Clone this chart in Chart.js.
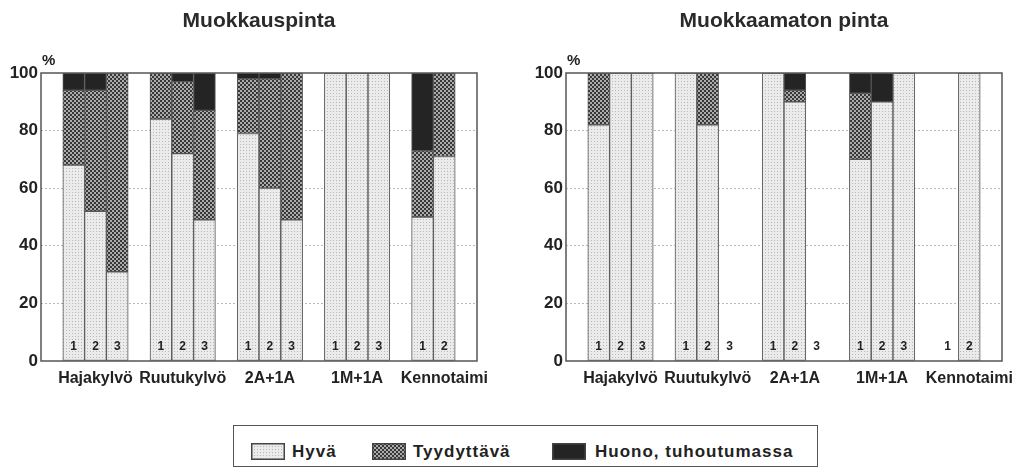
<!DOCTYPE html>
<html>
<head>
<meta charset="utf-8">
<script src="https://cdn.jsdelivr.net/npm/chart.js@4/dist/chart.umd.min.js"></script>
<style>
  body { margin: 0; background: #fff; font-family: "Liberation Sans", Arial, sans-serif; }
  #wrap { position: relative; width: 1022px; height: 473px; }
  canvas.chart { position: absolute; top: 0; }
  #legend { position: absolute; left: 233px; top: 425px; width: 585px; height: 42px;
            border: 1.5px solid #555; box-sizing: border-box; }
  #legend .sw { position: absolute; top: 17px; width: 34px; height: 17px; }
  #legend .txt { position: absolute; top: 16px; font-weight: bold; font-size: 17px;
                 letter-spacing: 1px; color: #222; line-height: 20px; }
</style>
</head>
<body>
<div id="wrap">
  <canvas id="leftChart" class="chart" width="490" height="395" style="left:0"></canvas>
  <canvas id="rightChart" class="chart" width="505" height="395" style="left:510px"></canvas>
  <div id="legend">
    <canvas class="sw" id="sw0" width="34" height="17" style="left:17px"></canvas>
    <span class="txt" style="left:58px">Hyvä</span>
    <canvas class="sw" id="sw1" width="34" height="17" style="left:138px"></canvas>
    <span class="txt" style="left:179px">Tyydyttävä</span>
    <canvas class="sw" id="sw2" width="34" height="17" style="left:318px"></canvas>
    <span class="txt" style="left:361px">Huono, tuhoutumassa</span>
  </div>
</div>
<script>
const groups = ['Hajakylvö', 'Ruutukylvö', '2A+1A', '1M+1A', 'Kennotaimi'];
const barCounts = [3, 3, 3, 3, 2];
const seriesNames = ['Hyvä', 'Tyydyttävä', 'Huono, tuhoutumassa'];
const yTicks = [0, 20, 40, 60, 80, 100];

// Muokkauspinta (bars in order 1,2,3 per group)
const leftHyva  = [68, 52, 31,  84, 72, 49,  79, 60, 49,  100, 100, 100,  50, 71];
const leftTyyd  = [26, 42, 69,  16, 25, 38,  19, 38, 51,  0, 0, 0,        23, 29];
const leftHuono = [6, 6, 0,     0, 3, 13,    2, 2, 0,     0, 0, 0,        27, 0];

// Muokkaamaton pinta (null = no bar)
const rightHyva  = [82, 100, 100,  100, 82, null,  100, 90, null,  70, 90, 100,  null, 100];
const rightTyyd  = [18, 0, 0,      0, 18, null,    0, 4, null,     23, 0, 0,     null, 0];
const rightHuono = [0, 0, 0,       0, 0, null,     0, 6, null,     7, 10, 0,     null, 0];

// slot layout: empty slot before each group and one at the end
const slotLabels = [], slotBarNo = [], slotGroup = [];
groups.forEach((g, gi) => {
  slotLabels.push(''); slotBarNo.push(null); slotGroup.push('');
  for (let b = 0; b < barCounts[gi]; b++) {
    slotLabels.push(g + ' ' + (b + 1));
    slotBarNo.push(String(b + 1));
    slotGroup.push(b === 1 ? g : '');
  }
});
slotLabels.push(''); slotBarNo.push(null); slotGroup.push('');

function toSlots(values) {
  let k = 0;
  const out = [];
  groups.forEach((g, gi) => {
    out.push(null);
    for (let b = 0; b < barCounts[gi]; b++) {
      const v = values[k++];
      out.push(v ? v : null);
    }
  });
  out.push(null);
  return out;
}

// fill patterns
const painters = [
  function(g) { // light stipple
    g.fillStyle = '#ebebeb'; g.fillRect(0, 0, 3, 3);
    g.fillStyle = '#b8b8b8'; g.fillRect(0, 0, 1, 1);
  },
  function(g) { // checker
    g.fillStyle = '#ababab'; g.fillRect(0, 0, 4, 4);
    g.fillStyle = '#383838'; g.fillRect(0, 0, 2, 2); g.fillRect(2, 2, 2, 2);
  },
  function(g) {
    g.fillStyle = '#242424'; g.fillRect(0, 0, 4, 4);
  }
];
const patternSizes = [3, 4, 4];
function makePattern(i, ctx) {
  const c = document.createElement('canvas');
  c.width = c.height = patternSizes[i];
  painters[i](c.getContext('2d'));
  return ctx.createPattern(c, 'repeat');
}

// legend swatches
for (let i = 0; i < 3; i++) {
  const cv = document.getElementById('sw' + i);
  const g = cv.getContext('2d');
  g.fillStyle = makePattern(i, g);
  g.fillRect(0, 0, 34, 17);
  g.strokeStyle = '#444'; g.lineWidth = 1.5;
  g.strokeRect(0.75, 0.75, 32.5, 15.5);
}

const panelDecor = {
  id: 'panelDecor',
  afterDatasetsDraw(chart, args, opts) {
    const { ctx, chartArea: a, scales } = chart;
    ctx.save();
    // frame
    ctx.strokeStyle = '#555';
    ctx.lineWidth = 1.5;
    ctx.strokeRect(a.left, a.top, a.right - a.left, a.bottom - a.top);
    // bar numbers
    ctx.fillStyle = '#222';
    ctx.font = 'bold 12px "Liberation Sans", Arial, sans-serif';
    ctx.textAlign = 'center';
    ctx.textBaseline = 'middle';
    const y0 = scales.y.getPixelForValue(0);
    slotBarNo.forEach((n, i) => {
      if (n) ctx.fillText(n, scales.x.getPixelForValue(i), y0 - 14);
    });
    // title
    ctx.fillStyle = '#2a2a2a';
    ctx.font = 'bold 21px "Liberation Sans", Arial, sans-serif';
    ctx.textBaseline = 'alphabetic';
    ctx.fillText(opts.title, (a.left + a.right) / 2, 27);
    // % sign
    ctx.textAlign = 'left';
    ctx.font = 'bold 15px "Liberation Sans", Arial, sans-serif';
    ctx.fillStyle = '#222';
    ctx.fillText('%', a.left + 1, a.top - 8);
    ctx.restore();
  }
};

function buildChart(id, title, hyva, tyyd, huono, yWidth, padRight) {
  const cv = document.getElementById(id);
  const ctx = cv.getContext('2d');
  const values = [hyva, tyyd, huono];
  const datasets = values.map((vals, i) => ({
    label: seriesNames[i],
    data: toSlots(vals),
    backgroundColor: makePattern(i, ctx),
    borderColor: '#555',
    borderWidth: 1,
    borderSkipped: false,
    barPercentage: 1,
    categoryPercentage: 1
  }));
  return new Chart(ctx, {
    type: 'bar',
    data: { labels: slotLabels, datasets: datasets },
    plugins: [panelDecor],
    options: {
      responsive: false,
      animation: false,
      layout: { padding: { top: 73, right: padRight, bottom: 6, left: 0 } },
      plugins: {
        legend: { display: false },
        tooltip: { enabled: false },
        panelDecor: { title: title }
      },
      scales: {
        x: {
          stacked: true,
          grid: { display: false, drawTicks: false },
          border: { display: false },
          ticks: {
            autoSkip: false, maxRotation: 0, minRotation: 0, padding: 8,
            color: '#222',
            font: { family: '"Liberation Sans", Arial, sans-serif', size: 16, weight: 'bold' },
            callback: (v, i) => slotGroup[i]
          },
          afterFit: s => { s.height = 28; }
        },
        y: {
          stacked: true,
          min: 0, max: 100,
          afterBuildTicks: s => { s.ticks = yTicks.map(v => ({ value: v })); },
          grid: {
            drawTicks: false,
            lineWidth: 1,
            color: c => (c.tick && (c.tick.value === 0 || c.tick.value === 100)) ? 'rgba(0,0,0,0)' : '#b8b8b8'
          },
          border: { display: false, dash: [2, 2] },
          ticks: {
            padding: 3,
            color: '#222',
            font: { family: '"Liberation Sans", Arial, sans-serif', size: 17, weight: 'bold' }
          },
          afterFit: s => { s.width = yWidth; }
        }
      }
    }
  });
}

buildChart('leftChart', 'Muokkauspinta', leftHyva, leftTyyd, leftHuono, 41, 13);
buildChart('rightChart', 'Muokkaamaton pinta', rightHyva, rightTyyd, rightHuono, 56, 13);
</script>
</body>
</html>
